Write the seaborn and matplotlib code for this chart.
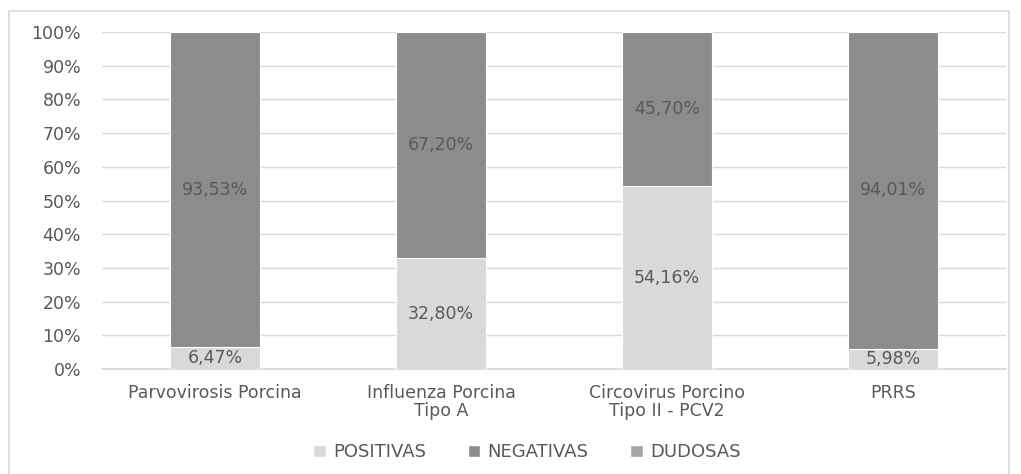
import numpy as np
import pandas as pd
import matplotlib.pyplot as plt
import seaborn as sns
from matplotlib.patches import Patch, Rectangle

categorias = ["Parvovirosis Porcina", "Influenza Porcina\nTipo A",
              "Circovirus Porcino\nTipo II - PCV2", "PRRS"]
positivas = [6.47, 32.80, 54.16, 5.98]
negativas = [93.53, 67.20, 45.70, 94.01]
dudosas = [0.00, 0.00, 0.14, 0.01]
yticks = [0, 10, 20, 30, 40, 50, 60, 70, 80, 90, 100]

c_pos = "#d9d9d9"
c_neg = "#8c8c8c"
c_dud = "#a6a6a6"
txt = "#595959"
fs = 12.5

sns.set_theme(style="white")
plt.rcParams['font.family'] = ['DejaVu Sans']

df = pd.DataFrame({"cat": categorias, "pos": positivas, "neg": negativas, "dud": dudosas})
df["pos_neg"] = df["pos"] + df["neg"]
df["total"] = df["pos_neg"] + df["dud"]

fig = plt.figure(figsize=(10.21, 4.74), dpi=100)
ax = fig.add_axes([0.0999, 0.2215, 0.8855, 0.711])

# outer frame
fig.patches.append(Rectangle((9 / 1021, -0.05), 1000 / 1021, 1.05 - 11 / 474,
                             transform=fig.transFigure, fill=False,
                             edgecolor="#d9d9d9", linewidth=1.2))

for col, color in [("total", c_dud), ("pos_neg", c_neg), ("pos", c_pos)]:
    sns.barplot(data=df, x="cat", y=col, color=color, width=0.4,
                edgecolor="white", linewidth=0.8, ax=ax, zorder=3)

x = np.arange(len(categorias))
for i in range(len(categorias)):
    p, n = positivas[i], negativas[i]
    ax.text(x[i], p / 2, f"{p:.2f}%".replace(".", ","), ha="center", va="center",
            fontsize=fs, color=txt, zorder=5)
    ax.text(x[i], p + n / 2, f"{n:.2f}%".replace(".", ","), ha="center", va="center",
            fontsize=fs, color=txt, zorder=5)

ax.set_ylim(0, 100)
ax.set_xlim(-0.5, len(categorias) - 0.5)
ax.set_yticks(yticks)
ax.set_yticklabels([f"{v}%" for v in yticks])
ax.yaxis.grid(True, color="#d9d9d9", linewidth=1, zorder=0)
ax.set_axisbelow(True)
ax.set_xlabel("")
ax.set_ylabel("")
for s in ["top", "right", "left"]:
    ax.spines[s].set_visible(False)
ax.spines["bottom"].set_color("#d9d9d9")
ax.tick_params(axis="both", length=0, colors=txt, labelsize=fs)
ax.tick_params(axis="y", pad=15)
ax.tick_params(axis="x", pad=10.5)
for lbl in ax.get_xticklabels():
    lbl.set_linespacing(1.05)

handles = [Patch(facecolor=c_pos, label="POSITIVAS"),
           Patch(facecolor=c_neg, label="NEGATIVAS"),
           Patch(facecolor=c_dud, label="DUDOSAS")]
leg = fig.legend(handles=handles, loc="center", bbox_to_anchor=(527 / 1021, 0.046),
                 ncol=3, frameon=False, fontsize=13, handlelength=0.7,
                 handleheight=0.7, handletextpad=0.4, columnspacing=2.3)
for t in leg.get_texts():
    t.set_color(txt)

plt.savefig("out.png", dpi=100)
